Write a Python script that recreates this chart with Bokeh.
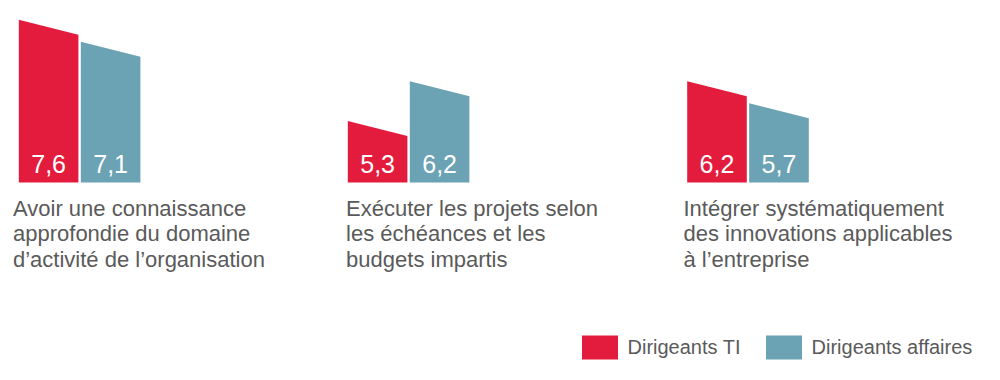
from bokeh.plotting import figure
from bokeh.models import Range1d, Legend, LegendItem, ColumnDataSource
from bokeh.core.properties import value
from bokeh.embed import file_html
from bokeh.resources import INLINE

# ---- data ----
categories = [
    "Avoir une connaissance\napprofondie du domaine\nd\u2019activit\u00e9 de l\u2019organisation",
    "Ex\u00e9cuter les projets selon\nles \u00e9ch\u00e9ances et les\nbudgets impartis",
    "Int\u00e9grer syst\u00e9matiquement\ndes innovations applicables\n\u00e0 l\u2019entreprise",
]
series_names = ["Dirigeants TI", "Dirigeants affaires"]
dirigeants_ti = [7.6, 5.3, 6.2]
dirigeants_affaires = [7.1, 6.2, 5.7]
value_labels_ti = ["7,6", "5,3", "6,2"]
value_labels_affaires = ["7,1", "6,2", "5,7"]

# ---- style / layout (pixels) ----
RED = "#E31C3D"
BLUE = "#6BA2B4"
GRAY = "#5A5A5A"
FONT = "Liberation Sans"
W, H = 984, 364
GROUP_LEFT = [18.3, 347.3, 686.7]     # left edge of each group (px)
LABEL_LEFT = [12.5, 345.6, 683.0]     # left edge of each category label (px)
BAR_W = 59.6
GAP = 2.4
BASE = 3.9               # value at bar bottom
YS = 44.0                # px per value unit
SLANT = 15.0 / YS        # top drop at right edge
y_start = BASE - 182.0 / YS

p = figure(width=W, height=H, output_backend="svg", toolbar_location=None,
           x_range=Range1d(0, W), y_range=Range1d(y_start, y_start + H / YS),
           min_border=0, outline_line_color=None, background_fill_color="white",
           border_fill_color="white")
p.axis.visible = False
p.grid.visible = False


def bar_shapes(vals, offset):
    xs, ys = [], []
    for i, v in enumerate(vals):
        l = GROUP_LEFT[i] + offset
        r = l + BAR_W
        xs.append([l, r, r, l])
        ys.append([BASE, BASE, v - SLANT, v])
    return xs, ys

xs_r, ys_r = bar_shapes(dirigeants_ti, 0.0)
xs_b, ys_b = bar_shapes(dirigeants_affaires, BAR_W + GAP)
r_red = p.patches(xs_r, ys_r, fill_color=RED, line_color=None)
r_blue = p.patches(xs_b, ys_b, fill_color=BLUE, line_color=None)

# value labels
for vals, labels, off in [(dirigeants_ti, value_labels_ti, 0.0),
                          (dirigeants_affaires, value_labels_affaires, BAR_W + GAP)]:
    src = ColumnDataSource(dict(x=[GROUP_LEFT[i] + off + BAR_W / 2 for i in range(len(vals))],
                                y=[BASE] * len(vals), t=labels))
    p.text("x", "y", text="t", source=src, text_color="white", text_font=value(FONT),
           text_font_size="25px", text_align="center", text_baseline="middle",
           y_offset=-18.5)

# category labels
lx, ly, lt, lo = [], [], [], []
for i, c in enumerate(categories):
    for j, line in enumerate(c.split("\n")):
        lx.append(LABEL_LEFT[i])
        ly.append(BASE)
        lt.append(line)
        lo.append(25.5 + 25.5 * j)
src = ColumnDataSource(dict(x=lx, y=ly, t=lt, o=lo))
p.text("x", "y", text="t", source=src, y_offset="o", text_color=GRAY,
       text_font=value(FONT), text_font_size="22px", text_align="left",
       text_baseline="middle")

legend = Legend(items=[LegendItem(label=series_names[0], renderers=[r_red]),
                       LegendItem(label=series_names[1], renderers=[r_blue])],
                orientation="horizontal", location=(576.5, 2),
                glyph_width=45, glyph_height=30, label_standoff=6, spacing=20,
                padding=0, margin=0, border_line_alpha=0, background_fill_alpha=0,
                label_text_font=FONT, label_text_font_size="20px",
                label_text_color=GRAY, label_height=30)
p.add_layout(legend, "center")

open("out.html", "w").write(file_html(p, INLINE))
